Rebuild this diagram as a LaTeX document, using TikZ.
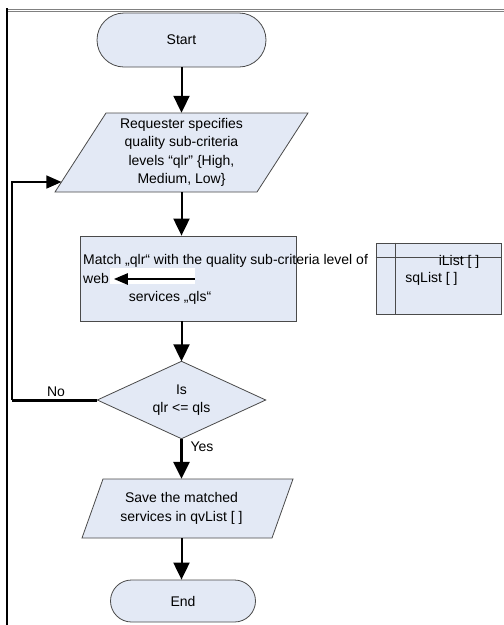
\documentclass[tikz,border=0pt]{standalone}
\usepackage{fontspec}
\setmainfont{Liberation Sans}
\usetikzlibrary{arrows.meta,calc,shapes.misc,backgrounds}
\definecolor{boxfill}{HTML}{E3E9F5}
\definecolor{boxline}{HTML}{4A4A4A}
\tikzset{
  lbl/.style={font=\fontsize{14}{18.3}\selectfont, inner sep=0pt},
  term/.style={rounded rectangle, draw=boxline, fill=boxfill, line width=0.8pt, lbl},
  frame/.style={lbl, align=center},
  outline/.style={draw=boxline, fill=boxfill, line width=0.8pt},
  flow/.style={line width=2pt, -{Triangle[width=16pt,length=17pt]}},
  boldflow/.style={line width=3pt, -{Triangle[width=16pt,length=17pt]}},
  loopflow/.style={line width=1.2pt, -{Triangle[width=13pt,length=15pt]}},
}
\begin{document}
\begin{tikzpicture}[x=1pt,y=-1pt]
\useasboundingbox (0,0) rectangle (504,625);

% page frame
\draw[gray, line width=0.8pt] (6,9) -- (504,9);
\draw[gray, line width=0.8pt] (6,11.5) -- (504,11.5);
\draw[black, line width=1.6pt] (7,8) -- (7,625);

% terminals
\node[term, minimum width=169pt, minimum height=54pt] (start) at (181.5,40) {Start};
\node[term, minimum width=145pt, minimum height=42pt] (stop) at (183,601) {End};

% input: requester levels
\node[frame, minimum width=202pt, minimum height=79pt] (req) at (181.5,152.5)
  {Requester specifies\\quality sub-criteria\\levels “qlr” \{High,\\Medium, Low\}};
\coordinate (reqtl) at ($(req.center)+(-75.5,-39.5)$);
\coordinate (reqtr) at ($(req.center)+(126.5,-39.5)$);
\coordinate (reqbr) at ($(req.center)+(75.5,39.5)$);
\coordinate (reqbl) at ($(req.center)+(-126.5,39.5)$);
\coordinate (fbin) at ($(reqbl)!0.1266!(reqtl)$);

% matching process
\node[outline, minimum width=216pt, minimum height=85pt, inner sep=0pt] (match) at (188,278.5) {};
\node[lbl, anchor=base west] (mline) at (83,264) {Match „qlr“ with the quality sub-criteria level of};
\node[lbl, anchor=base west] (web) at (83,283.5) {web};
\node[fill=white, minimum width=85pt, minimum height=16pt, inner sep=0pt] (wbox) at (152.5,276) {};
\draw[line width=2.5pt, -{Triangle[width=11pt,length=14pt]}]
  ($(wbox.east)+(0,3)$) -- ($(wbox.west)+(4,3)$);
\node[lbl, anchor=base] (svc) at (170,301) {services „qls“};

% list store
\node[outline, minimum width=125pt, minimum height=71pt, inner sep=0pt] (lists) at (438.5,278.5) {};
\draw[boxline, line width=0.8pt] ($(lists.north west)+(0,15)$) -- ($(lists.north east)+(0,15)$);
\draw[boxline, line width=0.8pt] ($(lists.north west)+(20,0)$) -- ($(lists.south west)+(20,0)$);
\node[lbl] (ilist) at (459,262) {iList [ ]};
\node[lbl] (sqlist) at (431.5,279) {sqList [ ]};

% decision
\node[frame, minimum width=168pt, minimum height=77pt] (dec) at (181.5,400) {Is\\qlr <= qls};
\node[lbl] (no) at (56,392) {No};
\node[lbl] (yes) at (202,447) {Yes};
\coordinate (fbcorner) at (12,400);

% output: save
\node[frame, minimum width=190pt, minimum height=59pt] (save) at (181.5,508.5)
  {Save the matched\\services in qvList [ ]};

% shape outlines behind the texts
\begin{scope}[on background layer]
  \draw[outline] (reqbl) -- (reqbr) -- (reqtr) -- (reqtl) -- cycle;
  \draw[outline] (dec.north) -- (dec.east) -- (dec.south) -- (dec.west) -- cycle;
  \draw[outline] ($(save.center)+(-99.5,29.5)$) -- ($(save.center)+(90.5,29.5)$)
    -- ($(save.center)+(111.5,-29.5)$) -- ($(save.center)+(-78.5,-29.5)$) -- cycle;
\end{scope}

% connectors
\draw[flow] (start.south) -- (req.north);
\draw[flow] (req.south) -- (req.south |- match.north);
\draw[flow] (dec.north |- match.south) -- (dec.north);
\draw[boldflow] (dec.south) -- (save.north);
\draw[flow] (save.south) -- (save.south |- stop.north);
\draw[line width=3pt] (dec.west) -- (fbcorner);
\draw[loopflow] (fbcorner) |- (fbin);
\end{tikzpicture}
\end{document}
